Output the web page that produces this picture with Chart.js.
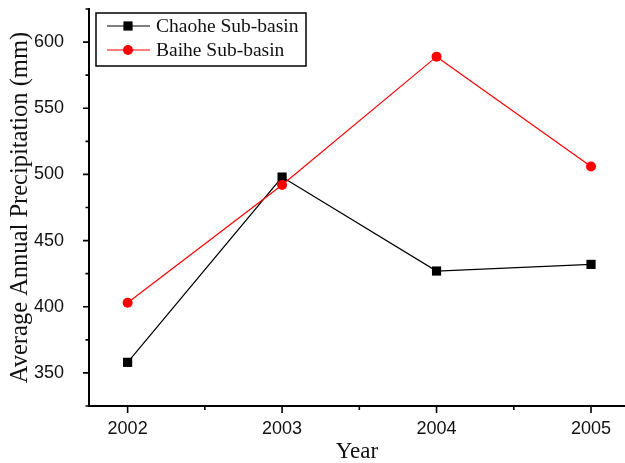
<!DOCTYPE html>
<html>
<head>
<meta charset="utf-8">
<script src="https://cdn.jsdelivr.net/npm/chart.js@4.4.0/dist/chart.umd.min.js"></script>
<style>
  html, body { margin: 0; padding: 0; background: #fff; }
  #wrap { width: 625px; height: 463px; position: relative; }
</style>
</head>
<body>
<div id="wrap"><canvas id="chart"></canvas></div>
<script>
const years = [2002, 2003, 2004, 2005];
const chaohe = [358, 498, 427, 432];
const baihe = [403, 492, 589, 506];
const yTicks = [350, 400, 450, 500, 550, 600];
const yMinor = [325, 375, 425, 475, 525, 575, 625];
const xMinor = [2002.5, 2003.5, 2004.5];

const serif = '"Liberation Serif", "Times New Roman", serif';
const sans = '"Liberation Sans", Arial, sans-serif';

// outward tick marks, long for labelled ticks and short for minor ones
const tickMarks = {
  id: 'tickMarks',
  afterDraw(chart) {
    const ctx = chart.ctx;
    const x = chart.scales.x, y = chart.scales.y;
    const left = chart.chartArea.left, bottom = chart.chartArea.bottom;
    ctx.save();
    ctx.strokeStyle = '#000';
    ctx.lineWidth = 1.6;
    ctx.beginPath();
    yTicks.forEach(v => { const p = y.getPixelForValue(v); ctx.moveTo(left, p); ctx.lineTo(left - 6, p); });
    yMinor.forEach(v => { const p = y.getPixelForValue(v); ctx.moveTo(left, p); ctx.lineTo(left - 3.5, p); });
    years.forEach(v => { const p = x.getPixelForValue(v); ctx.moveTo(p, bottom); ctx.lineTo(p, bottom + 7); });
    xMinor.forEach(v => { const p = x.getPixelForValue(v); ctx.moveTo(p, bottom); ctx.lineTo(p, bottom + 4); });
    ctx.stroke();
    ctx.restore();
  }
};

// framed legend with line + marker samples
const boxLegend = {
  id: 'boxLegend',
  afterDraw(chart) {
    const ctx = chart.ctx;
    const bx = 96, by = 13, bw = 210, bh = 53;
    ctx.save();
    ctx.fillStyle = '#fff';
    ctx.fillRect(bx, by, bw, bh);
    ctx.strokeStyle = '#000';
    ctx.lineWidth = 1.5;
    ctx.strokeRect(bx, by, bw, bh);
    ctx.font = '19.5px ' + serif;
    ctx.textBaseline = 'middle';
    chart.data.datasets.forEach((ds, i) => {
      const cy = by + 13 + i * 24;
      ctx.strokeStyle = ds.borderColor;
      ctx.lineWidth = 1.2;
      ctx.beginPath();
      ctx.moveTo(107, cy); ctx.lineTo(150, cy);
      ctx.stroke();
      ctx.fillStyle = ds.backgroundColor;
      if (ds.pointStyle === 'rect') {
        ctx.fillRect(128 - 4.6, cy - 4.6, 9.2, 9.2);
      } else {
        ctx.beginPath(); ctx.arc(128, cy, 5, 0, Math.PI * 2); ctx.fill();
      }
      ctx.fillStyle = '#111';
      ctx.fillText(ds.label, 156, cy + 1);
    });
    ctx.restore();
  }
};

new Chart(document.getElementById('chart'), {
  type: 'line',
  data: {
    datasets: [
      {
        label: 'Chaohe Sub-basin',
        data: years.map((yr, i) => ({ x: yr, y: chaohe[i] })),
        borderColor: '#000',
        backgroundColor: '#000',
        borderWidth: 1.2,
        pointStyle: 'rect',
        pointRadius: 6.5,
        pointBorderWidth: 0,
        tension: 0,
        order: 1
      },
      {
        label: 'Baihe Sub-basin',
        data: years.map((yr, i) => ({ x: yr, y: baihe[i] })),
        borderColor: '#ff0000',
        backgroundColor: '#ff0000',
        borderWidth: 1.2,
        pointStyle: 'circle',
        pointRadius: 5,
        pointBorderWidth: 0,
        tension: 0,
        order: 0
      }
    ]
  },
  options: {
    responsive: true,
    maintainAspectRatio: false,
    animation: false,
    layout: { autoPadding: false, padding: { top: 9, right: 0, left: 0, bottom: 0 } },
    plugins: {
      legend: { display: false },
      tooltip: { enabled: false }
    },
    scales: {
      x: {
        type: 'linear',
        min: 2001.75,
        max: 2005.22,
        afterBuildTicks: s => { s.ticks = years.map(v => ({ value: v })); },
        afterFit: s => { s.height = 57; s.paddingLeft = 0; s.paddingRight = 0; },
        grid: { display: false },
        border: { display: true, color: '#000', width: 2 },
        ticks: {
          padding: 4,
          color: '#111',
          font: { family: sans, size: 18 },
          callback: v => String(v)
        },
        title: {
          display: true,
          text: 'Year',
          color: '#111',
          font: { family: serif, size: 23, lineHeight: 1 },
          padding: { top: 0, bottom: 0 }
        }
      },
      y: {
        min: 325,
        max: 625,
        afterBuildTicks: s => { s.ticks = yTicks.map(v => ({ value: v })); },
        afterFit: s => { s.width = 89; s.paddingTop = 0; s.paddingBottom = 0; },
        grid: { display: false },
        border: { display: true, color: '#000', width: 2 },
        ticks: {
          padding: 17,
          color: '#111',
          font: { family: sans, size: 18 }
        },
        title: {
          display: true,
          text: 'Average Annual Precipitation (mm)',
          color: '#111',
          font: { family: serif, size: 24.5 },
          padding: { top: 6, bottom: 0 }
        }
      }
    }
  },
  plugins: [tickMarks, boxLegend]
});
</script>
</body>
</html>
